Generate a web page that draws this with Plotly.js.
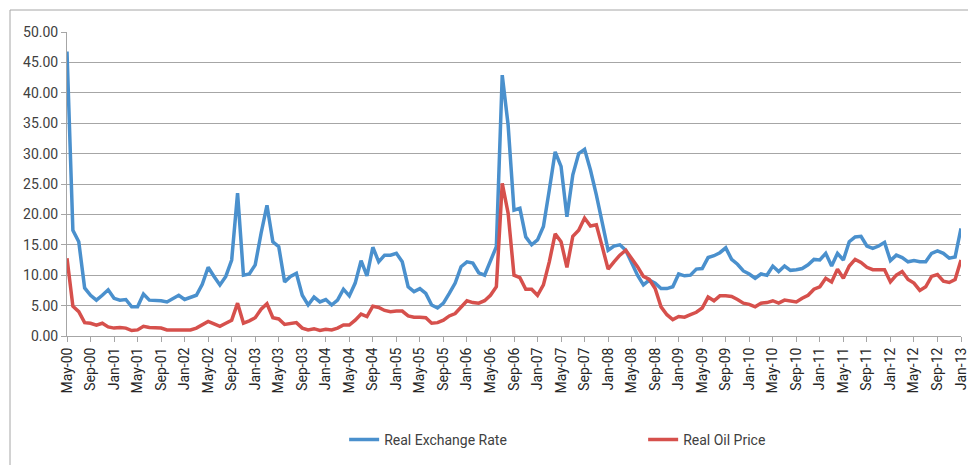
<!DOCTYPE html>
<html>
<head>
<meta charset="utf-8">
<script src="https://cdn.plot.ly/plotly-3.0.1.min.js"></script>
<style>html,body{margin:0;padding:0;background:#fff;}#chart{width:968px;height:465px;}</style>
</head>
<body>
<div id="chart"></div>
<script>
// Month categories May-00 .. Jan-13
var monthNames = ["Jan","Feb","Mar","Apr","May","Jun","Jul","Aug","Sep","Oct","Nov","Dec"];
var categories = [];
(function(){
  var y = 2000, m = 4;
  while (!(y === 2013 && m === 1)) {
    categories.push(monthNames[m] + "-" + String(y % 100).padStart(2, "0"));
    m++; if (m === 12) { m = 0; y++; }
  }
})();

var realExchangeRate = [
46.8,17.4,15.5,7.9,6.7,5.9,6.7,7.6,6.2,5.9,6.0,4.8,4.8,6.9,5.9,5.9,5.8,5.6,6.2,6.7,
6.0,6.4,6.7,8.5,11.3,9.8,8.4,9.8,12.5,23.5,10.0,10.2,11.7,16.9,21.5,15.5,14.7,8.9,9.8,10.3,
6.7,5.1,6.4,5.6,6.0,5.1,5.9,7.7,6.6,8.7,12.4,9.9,14.6,12.2,13.3,13.3,13.6,12.2,8.1,7.3,
7.8,7.0,5.1,4.6,5.4,7.0,8.7,11.4,12.2,12.0,10.4,10.0,12.2,14.7,42.9,34.7,20.7,21.0,16.3,15.0,
15.8,18.0,24.0,30.3,27.9,19.6,26.5,30.0,30.7,27.3,23.2,18.5,14.1,14.8,15.0,14.1,12.0,10.0,8.4,9.2,
8.7,7.8,7.8,8.1,10.2,9.9,10.0,11.0,11.1,12.9,13.2,13.7,14.5,12.6,11.8,10.7,10.2,9.5,10.2,10.0,
11.5,10.6,11.5,10.8,10.9,11.1,11.7,12.6,12.5,13.6,11.5,13.6,12.5,15.5,16.3,16.4,14.8,14.4,14.8,15.4,
12.4,13.3,12.9,12.2,12.4,12.2,12.2,13.6,14.0,13.6,12.8,13.0,17.7
];

var realOilPrice = [
12.8,4.9,4.0,2.2,2.1,1.8,2.1,1.5,1.3,1.4,1.3,0.9,1.0,1.6,1.4,1.3,1.3,1.0,1.0,1.0,
1.0,1.0,1.3,1.9,2.4,2.0,1.6,2.1,2.6,5.4,2.1,2.5,3.0,4.4,5.3,3.0,2.8,1.9,2.0,2.2,
1.3,1.0,1.2,0.9,1.1,1.0,1.3,1.8,1.8,2.6,3.6,3.2,4.9,4.7,4.2,4.0,4.1,4.1,3.3,3.1,
3.1,3.0,2.1,2.2,2.6,3.3,3.7,4.8,5.8,5.5,5.4,5.8,6.7,8.1,25.1,20.2,10.0,9.6,7.7,7.7,
6.7,8.4,12.2,16.8,15.5,11.3,16.4,17.4,19.4,18.1,18.3,14.7,11.0,12.2,13.3,14.1,12.8,11.4,9.8,9.3,
7.8,4.8,3.5,2.7,3.2,3.1,3.5,3.9,4.6,6.4,5.8,6.6,6.6,6.5,6.0,5.4,5.2,4.8,5.4,5.5,
5.8,5.4,5.9,5.8,5.6,6.2,6.7,7.7,8.1,9.5,8.9,11.0,9.5,11.5,12.6,12.1,11.3,10.9,10.9,10.9,
8.9,10.0,10.6,9.3,8.7,7.5,8.1,9.8,10.1,9.0,8.8,9.3,12.5
];

var tickLabels = categories.filter(function(c, i){ return i % 4 === 0; });
var yTicks = [0,5,10,15,20,25,30,35,40,45,50];
var yTickText = yTicks.map(function(v){ return v.toFixed(2); });

var fontFam = "'Liberation Sans Narrow', 'Roboto', 'DejaVu Sans', sans-serif";

var traces = [
  {x: categories, y: realExchangeRate, type: "scatter", mode: "lines", name: "Real Exchange Rate",
   line: {color: "#4a90cd", width: 3.5}},
  {x: categories, y: realOilPrice, type: "scatter", mode: "lines", name: "Real Oil Price",
   line: {color: "#d6504c", width: 3.5}}
];

var layout = {
  width: 968, height: 465,
  margin: {l: 67, r: 7, t: 32, b: 129, autoexpand: false},
  paper_bgcolor: "#ffffff", plot_bgcolor: "#ffffff",
  font: {family: fontFam, size: 14, color: "#404040"},
  showlegend: true,
  legend: {orientation: "h", x: 0.31, xanchor: "left", y: -0.342, yanchor: "middle",
           font: {family: fontFam, size: 14, color: "#404040"}, entrywidth: 254, entrywidthmode: "pixels",
           traceorder: "normal"},
  xaxis: {type: "category", tickmode: "array", tickvals: tickLabels, ticktext: tickLabels,
          tickangle: -90, showgrid: false, zeroline: false, automargin: false,
          showline: true, linecolor: "#a6a6a6", linewidth: 1,
          ticks: "outside", ticklen: 5, tickcolor: "#a6a6a6",
          range: [0, categories.length - 1], fixedrange: true,
          tickfont: {family: fontFam, size: 14, color: "#262626"}},
  yaxis: {range: [0, 50], tickmode: "array", tickvals: yTicks, ticktext: yTickText,
          showgrid: true, gridcolor: "#a6a6a6", gridwidth: 1, zeroline: false, automargin: false,
          showline: true, linecolor: "#a6a6a6", linewidth: 1,
          ticks: "outside", ticklen: 5, tickcolor: "#a6a6a6",
          tickfont: {family: fontFam, size: 14, color: "#404040"}},
  shapes: [
    {type: "rect", xref: "paper", yref: "paper", x0: -57/894, x1: 1.1, y0: -0.5, y1: 1 + 22/304,
     line: {color: "#a6a6a6", width: 1}, fillcolor: "rgba(0,0,0,0)", layer: "below"}
  ]
};

Plotly.newPlot("chart", traces, layout, {displayModeBar: false, staticPlot: true});
</script>
</body>
</html>
